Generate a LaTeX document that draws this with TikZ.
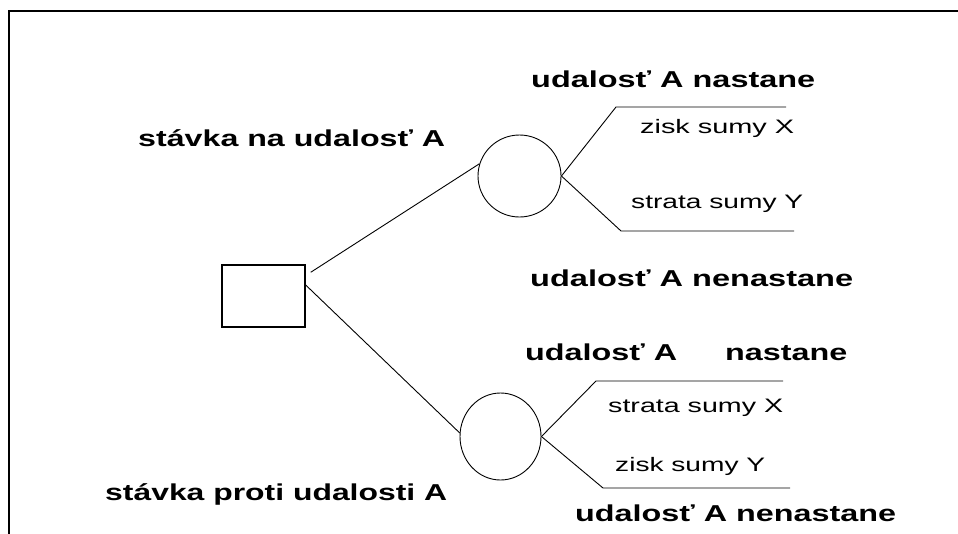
\documentclass[tikz,border=0pt]{standalone}
\usepackage{fontspec}
\setmainfont{Liberation Sans}
\usetikzlibrary{shapes.geometric,calc}
\newcommand\sxbox[2]{\resizebox{#1pt}{\height}{#2}}
\tikzset{
  bigtxt/.style={anchor=base west, inner sep=0pt, font=\fontsize{23}{26}\selectfont\bfseries},
  smalltxt/.style={anchor=base west, inner sep=0pt, font=\fontsize{19.5}{22}\selectfont},
  decision/.style={draw, line width=1.4pt, rectangle, inner sep=0pt, minimum width=83pt, minimum height=62pt},
  chance/.style={draw, line width=0.9pt, ellipse, inner sep=0pt},
  branch/.style={line width=0.9pt},
  frame/.style={line width=2pt}
}
\begin{document}
\begin{tikzpicture}[x=1pt,y=-1pt]
\useasboundingbox (0,0) rectangle (958,533);
\draw[frame] (9,540) -- (9,11) -- (965,11);

\node[decision] (sq) at (263.5,296) {};
\node[chance, minimum width=83pt, minimum height=82pt] (c1) at (519.5,176) {};
\node[chance, minimum width=81pt, minimum height=87pt] (c2) at (500.5,436.5) {};

\draw[branch] ($(sq.north east)+(5,8)$) -- (c1.163);
\draw[branch] ($(sq.east)+(0,-11)$) -- (c2.175);

\coordinate (a1) at (616,107);
\coordinate (a2) at (786,107);
\coordinate (b1) at (621,231);
\coordinate (b2) at (794,231);
\draw[branch] (c1.east) -- (a1) -- (a2);
\draw[branch] (c1.east) -- (b1) -- (b2);

\coordinate (d1) at (596,381);
\coordinate (d2) at (783,381);
\coordinate (e1) at (603,488);
\coordinate (e2) at (790,488);
\draw[branch] (c2.east) -- (d1) -- (d2);
\draw[branch] (c2.east) -- (e1) -- (e2);

\node[bigtxt] (t1) at (138,146) {\sxbox{307}{stávka na udalosť A}};
\node[bigtxt] (t2) at (531,87) {\sxbox{284}{udalosť A nastane}};
\node[smalltxt] (t3) at (640,133) {\sxbox{154}{zisk sumy X}};
\node[smalltxt] (t4) at (631,208) {\sxbox{172}{strata sumy Y}};
\node[bigtxt] (t5) at (530,286) {\sxbox{323}{udalosť A nenastane}};
\node[bigtxt] (t6) at (525,360) {\sxbox{322}{udalosť A\hspace{34pt}nastane}};
\node[smalltxt] (t7) at (608,412) {\sxbox{175}{strata sumy X}};
\node[smalltxt] (t8) at (615,471) {\sxbox{150}{zisk sumy Y}};
\node[bigtxt] (t9) at (575,521) {\sxbox{321}{udalosť A nenastane}};
\node[bigtxt] (t10) at (105,500) {\sxbox{342}{stávka proti udalosti A}};
\end{tikzpicture}
\end{document}
